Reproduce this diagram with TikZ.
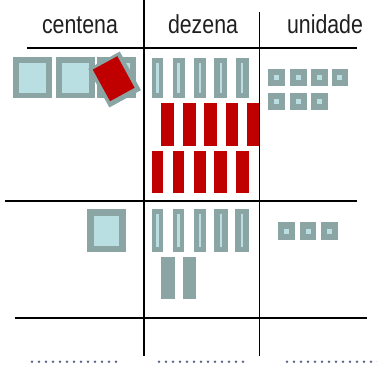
\documentclass[tikz,border=0pt]{standalone}
\usepackage{fontspec}
\setmainfont{Liberation Sans}
\definecolor{blockgrey}{HTML}{8BA5A5}
\definecolor{blocklight}{HTML}{B9DFE3}
\definecolor{blockred}{HTML}{C00000}
\definecolor{dotcol}{HTML}{5A6488}
\begin{document}
\begin{tikzpicture}[x=1pt,y=-1pt,
  rule/.style={line width=1.5pt,black},
  head/.style={anchor=base,inner sep=0pt,font=\fontsize{26}{30}\selectfont,xscale=0.82,text=black!88},
  greyfill/.style={fill=blockgrey},
  lightfill/.style={fill=blocklight},
  redfill/.style={fill=blockred},
  answerdot/.style={fill=dotcol}]
\useasboundingbox (0,0) rectangle (377,367);

% headings
\node[head] (hc) at (80,33) {centena};
\node[head] (hd) at (203,33) {dezena};
\node[head] (hu) at (325,33) {unidade};

% grid lines
\draw[rule] (144,0) -- (144,356);
\draw[rule] (259.5,12) -- (259.5,356);
\draw[rule] (27,48) -- (357,48);
\draw[rule] (5,201) -- (357,201);
\draw[rule] (15,318) -- (367,318);

% ---- top row: centena
\foreach \xl in {13,56,97}{
  \fill[greyfill] (\xl,57) rectangle ++(38.5,41);
  \fill[lightfill] (\xl+5.5,62.5) rectangle ++(27.5,30.5);
}
\node[greyfill,minimum width=36pt,minimum height=44pt,inner sep=0pt,rotate=28.7] (rg) at (114.6,79.5) {};
\node[redfill,minimum width=28pt,minimum height=36pt,inner sep=0pt,rotate=28.7] (rr) at (113.7,78.7) {};

% ---- top row: dezena
\foreach \xl/\w in {151.5/11.8,172.7/11.8,194/12,214.3/13,235.7/13}{
  \fill[greyfill] (\xl,58.3) rectangle ++(\w,39.4);
  \fill[lightfill] (\xl+\w/2-1.2,63.3) rectangle ++(2.4,30);
}
\foreach \xl/\w in {161/13.3,183/13,204/13.3,225.7/12,247/12}{
  \fill[redfill] (\xl,103.3) rectangle ++(\w,42.7);
}
\foreach \xl/\w in {151.7/11.6,172.7/11.6,194/12,214/13.3,235.7/13.3}{
  \fill[redfill] (\xl,151) rectangle ++(\w,42.3);
}

% ---- top row: unidade
\foreach \xl in {268.3,290,311,331.5}{
  \fill[greyfill] (\xl,69) rectangle ++(16.5,17);
  \fill[lightfill] (\xl+5.7,75) rectangle ++(5,5);
}
\foreach \xl in {268.3,290,311}{
  \fill[greyfill] (\xl,92.5) rectangle ++(16.5,17);
  \fill[lightfill] (\xl+5.7,98.5) rectangle ++(5,5);
}

% ---- bottom row: centena
\fill[greyfill] (87.3,209.3) rectangle (125.7,252.3);
\fill[lightfill] (94,216) rectangle (119,246);

% ---- bottom row: dezena
\foreach \xl/\w in {151.7/11.6,172.7/11.6,194.3/11.4,214.3/13.4,235.3/13.4}{
  \fill[greyfill] (\xl,209.3) rectangle ++(\w,43);
  \fill[lightfill] (\xl+\w/2-1.2,214.3) rectangle ++(2.4,33);
}
\fill[greyfill] (161.3,256.7) rectangle (174.7,299.3);
\fill[greyfill] (182.7,256.7) rectangle (196,299.3);

% ---- bottom row: unidade
\foreach \xl in {278.3,299.7,321}{
  \fill[greyfill] (\xl,222.3) rectangle ++(16.7,18);
  \fill[lightfill] (\xl+5.8,228.8) rectangle ++(5,5);
}

% ---- answer dots
\foreach \i in {0,...,12}{
  \fill[answerdot] (32+7*\i,361.7) circle (1.3);
  \fill[answerdot] (159+7*\i,361.7) circle (1.3);
}
\foreach \i in {0,...,13}{
  \fill[answerdot] (287+7*\i,361.7) circle (1.3);
}
\end{tikzpicture}
\end{document}
